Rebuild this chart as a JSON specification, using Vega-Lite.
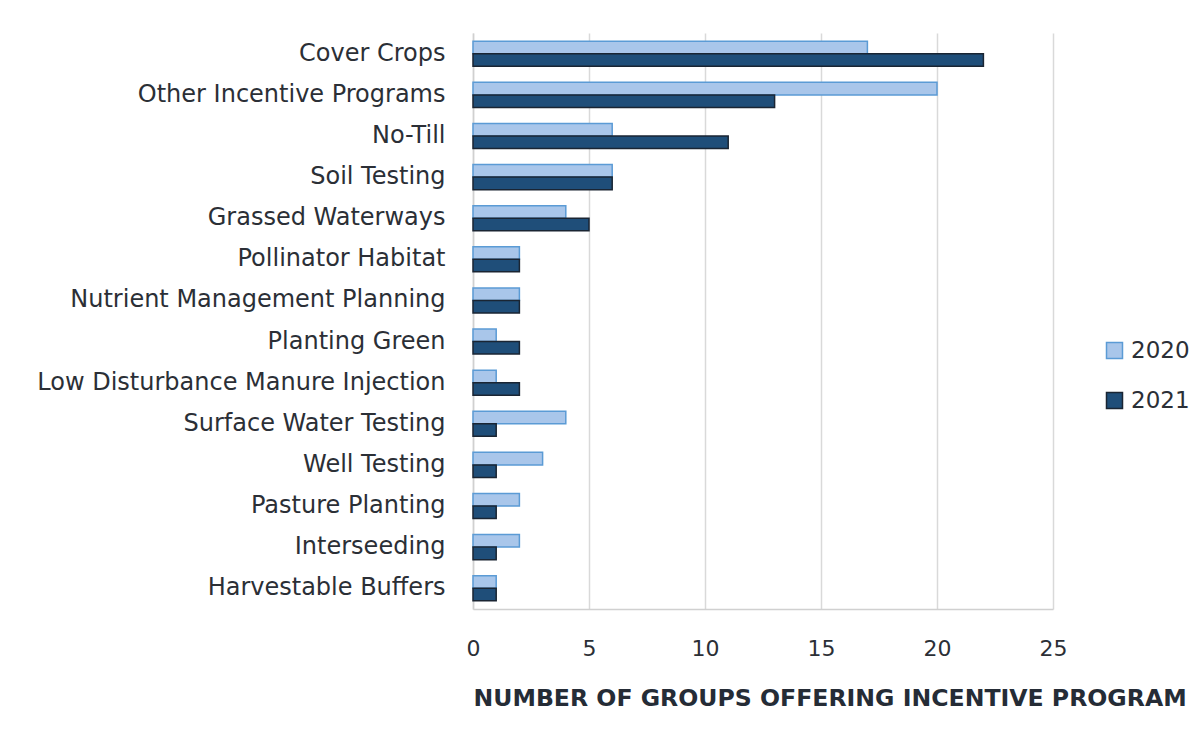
{
  "$schema": "https://vega.github.io/schema/vega-lite/v6.json",
  "width": 580,
  "height": 576,
  "autosize": {"type": "none"},
  "padding": {"left": 473, "top": 33, "right": 145, "bottom": 131},
  "background": "white",
  "config": {
    "font": "DejaVu Sans",
    "view": {"stroke": null},
    "axis": {"labelFont": "DejaVu Sans", "titleFont": "DejaVu Sans"},
    "legend": {"labelFont": "DejaVu Sans"}
  },
  "data": {
    "values": [
      {"practice": "Cover Crops", "year": "2020", "groups": 17},
      {"practice": "Cover Crops", "year": "2021", "groups": 22},
      {"practice": "Other Incentive Programs", "year": "2020", "groups": 20},
      {"practice": "Other Incentive Programs", "year": "2021", "groups": 13},
      {"practice": "No-Till", "year": "2020", "groups": 6},
      {"practice": "No-Till", "year": "2021", "groups": 11},
      {"practice": "Soil Testing", "year": "2020", "groups": 6},
      {"practice": "Soil Testing", "year": "2021", "groups": 6},
      {"practice": "Grassed Waterways", "year": "2020", "groups": 4},
      {"practice": "Grassed Waterways", "year": "2021", "groups": 5},
      {"practice": "Pollinator Habitat", "year": "2020", "groups": 2},
      {"practice": "Pollinator Habitat", "year": "2021", "groups": 2},
      {"practice": "Nutrient Management Planning", "year": "2020", "groups": 2},
      {"practice": "Nutrient Management Planning", "year": "2021", "groups": 2},
      {"practice": "Planting Green", "year": "2020", "groups": 1},
      {"practice": "Planting Green", "year": "2021", "groups": 2},
      {"practice": "Low Disturbance Manure Injection", "year": "2020", "groups": 1},
      {"practice": "Low Disturbance Manure Injection", "year": "2021", "groups": 2},
      {"practice": "Surface Water Testing", "year": "2020", "groups": 4},
      {"practice": "Surface Water Testing", "year": "2021", "groups": 1},
      {"practice": "Well Testing", "year": "2020", "groups": 3},
      {"practice": "Well Testing", "year": "2021", "groups": 1},
      {"practice": "Pasture Planting", "year": "2020", "groups": 2},
      {"practice": "Pasture Planting", "year": "2021", "groups": 1},
      {"practice": "Interseeding", "year": "2020", "groups": 2},
      {"practice": "Interseeding", "year": "2021", "groups": 1},
      {"practice": "Harvestable Buffers", "year": "2020", "groups": 1},
      {"practice": "Harvestable Buffers", "year": "2021", "groups": 1}
    ]
  },
  "mark": {"type": "bar", "strokeWidth": 1.5},
  "encoding": {
    "y": {
      "field": "practice",
      "type": "nominal",
      "sort": null,
      "scale": {"paddingInner": 0.39, "paddingOuter": 0.2},
      "axis": {
        "title": null,
        "ticks": false,
        "labelPadding": 28,
        "labelFontSize": 24,
        "labelColor": "#2b2f36",
        "domainColor": "#d0d0d0",
        "domainWidth": 1.5,
        "grid": false,
        "labelLimit": 500
      }
    },
    "yOffset": {"field": "year", "type": "nominal", "sort": ["2020", "2021"], "scale": {"paddingInner": 0}},
    "x": {
      "field": "groups",
      "type": "quantitative",
      "scale": {"domain": [0, 25]},
      "axis": {
        "values": [0, 5, 10, 15, 20, 25],
        "title": "NUMBER OF GROUPS OFFERING INCENTIVE PROGRAM",
        "titleFontSize": 23.6,
        "titleFontWeight": "bold",
        "titleColor": "#252c36",
        "titleAnchor": "start",
        "titleAlign": "left",
        "titlePadding": 27,
        "ticks": false,
        "labelFlush": false,
        "labelPadding": 29,
        "labelFontSize": 22,
        "labelColor": "#2b2f36",
        "domainColor": "#d0d0d0",
        "domainWidth": 1.5,
        "gridColor": "#d9d9d9",
        "gridWidth": 1.5
      }
    },
    "fill": {
      "field": "year",
      "type": "nominal",
      "scale": {"domain": ["2020", "2021"], "range": ["#a9c6ea", "#1f4e79"]},
      "legend": {
        "title": null,
        "orient": "none",
        "legendX": 630,
        "legendY": 306,
        "symbolType": "square",
        "symbolSize": 256,
        "symbolStrokeWidth": 1.5,
        "labelFontSize": 23,
        "labelColor": "#2b2f36",
        "labelOffset": 5,
        "rowPadding": 26
      }
    },
    "stroke": {
      "field": "year",
      "type": "nominal",
      "scale": {"domain": ["2020", "2021"], "range": ["#5b9bd5", "#1a2533"]},
      "legend": null
    }
  }
}
